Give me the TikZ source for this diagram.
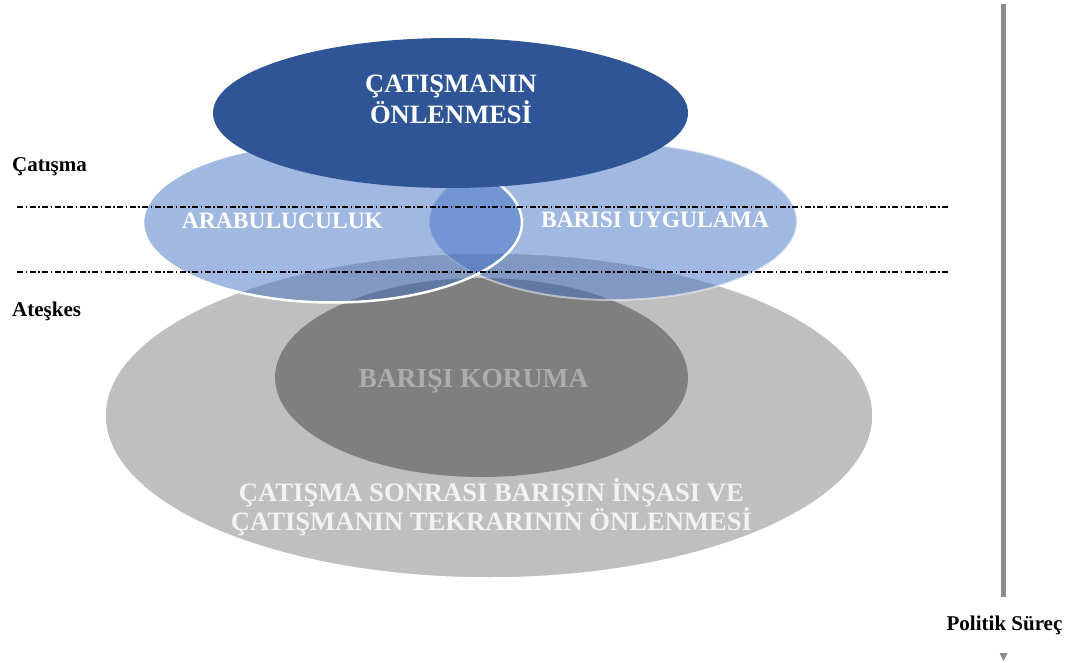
\documentclass[tikz,border=0pt]{standalone}
\usepackage{fontspec}
\setmainfont{Liberation Serif}
\usetikzlibrary{shapes.geometric}
\definecolor{topblue}{HTML}{2F5597}
\definecolor{midblue}{HTML}{4472C4}
\definecolor{lightgray}{HTML}{BFBFBF}
\definecolor{darkgray}{HTML}{7F7F7F}
\definecolor{korumatext}{HTML}{ADADAD}
\definecolor{axisgray}{HTML}{8C8C8C}
\tikzset{
  oval/.style={ellipse, inner sep=0pt, outer sep=0pt},
  dashdot/.style={black, line width=1.2pt, dash pattern=on 6pt off 2.5pt on 1.5pt off 2.5pt},
  sidelabel/.style={font=\fontsize{21}{25}\selectfont\bfseries, inner sep=0pt},
  ovaltext/.style={font=\bfseries, text=white, inner sep=0pt, align=center},
}
\begin{document}
\begin{tikzpicture}[x=1pt,y=-1pt]
\useasboundingbox (0,0) rectangle (1070,663);
% gray ellipses
\node[oval, fill=lightgray, draw=white, line width=1.5pt, minimum width=768pt, minimum height=325pt] (big) at (489,415.5) {};
\node[oval, fill=darkgray, minimum width=413pt, minimum height=199pt] (inner) at (481.5,377.5) {};
% blue ellipses
\node[oval, fill=midblue, draw=white, line width=2pt, opacity=0.5, minimum width=368pt, minimum height=157pt] (right) at (613,221.5) {};
\node[oval, fill=midblue, fill opacity=0.5, draw=white, line width=2.5pt, minimum width=379pt, minimum height=160pt] (left) at (332.5,222.5) {};
% top ellipse
\node[oval, fill=topblue, minimum width=475pt, minimum height=150pt] (top) at (450.5,113) {};
% texts
\node[ovaltext, font=\fontsize{26.5}{31}\selectfont\bfseries] (ttop) at (451,99) {ÇATIŞMANIN\\ÖNLENMESİ};
\node[ovaltext, font=\fontsize{23.5}{28}\selectfont\bfseries, anchor=base] (tleft) at (282.5,228) {ARABULUCULUK};
\node[ovaltext, font=\fontsize{23.5}{28}\selectfont\bfseries, anchor=base] (tright) at (655,227) {BARISI UYGULAMA};
\node[ovaltext, text=korumatext, font=\fontsize{27.5}{32}\selectfont\bfseries, anchor=base] (tinner) at (473.5,387) {BARIŞI KORUMA};
\node[ovaltext, text=white!95!black, font=\fontsize{26.6}{29}\selectfont\bfseries] (tbig) at (491.5,507.5) {ÇATIŞMA SONRASI BARIŞIN İNŞASI VE\\ÇATIŞMANIN TEKRARININ ÖNLENMESİ};
% dash-dot lines
\coordinate (l1a) at (17,207);
\coordinate (l1b) at (948,207);
\coordinate (l2a) at (17,272);
\coordinate (l2b) at (948,272);
\draw[dashdot] (l1a) -- (l1b);
\draw[dashdot] (l2a) -- (l2b);
% side labels
\node[sidelabel, anchor=base west] (catisma) at (12,171.5) {Çatışma};
\node[sidelabel, anchor=base west] (ateskes) at (12,316) {Ateşkes};
% political process axis
\coordinate (axtop) at (1003.5,4);
\coordinate (axbot) at (1003.5,597);
\draw[axisgray, line width=4.5pt] (axtop) -- (axbot);
\node[sidelabel, anchor=base] (politik) at (1004.5,630.5) {Politik Süreç};
\coordinate (tipa) at (999.5,653);
\coordinate (tipb) at (1007.5,653);
\coordinate (tipc) at (1003.5,661);
\fill[axisgray] (tipa) -- (tipb) -- (tipc) -- cycle;
\end{tikzpicture}
\end{document}
